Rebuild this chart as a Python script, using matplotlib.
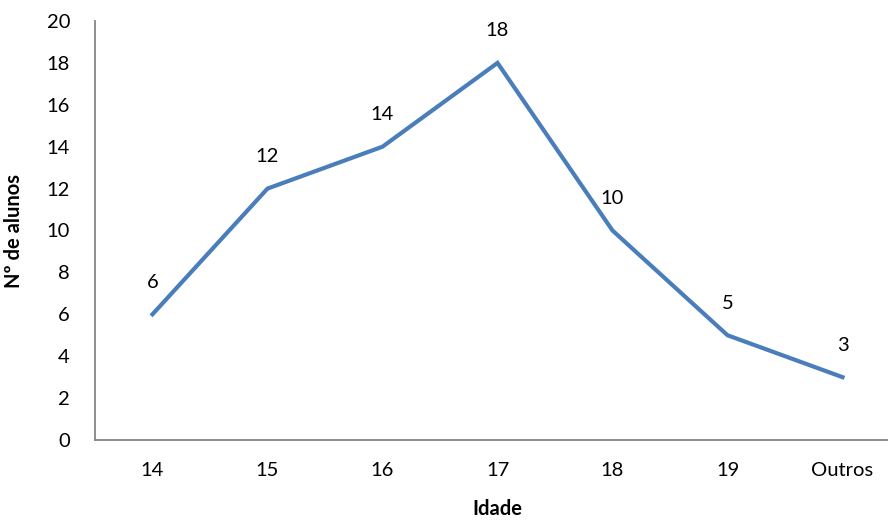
import matplotlib
matplotlib.use("Agg")
import matplotlib.pyplot as plt

categories = ["14", "15", "16", "17", "18", "19", "Outros"]
values = [6, 12, 14, 18, 10, 5, 3]
yticks = [0, 2, 4, 6, 8, 10, 12, 14, 16, 18, 20]

plt.rcParams['font.family'] = ['Lato', 'DejaVu Sans']

W, H = 888, 524
fig = plt.figure(figsize=(W/100, H/100), dpi=100)
left, right, top, bottom = 95, 900, 21, 440
ax = fig.add_axes([left/W, 1 - bottom/H, (right-left)/W, (bottom-top)/H])

fs = 14.5
x = list(range(len(categories)))
ax.plot(x, values, color="#4A7EBB", lw=3.0, solid_joinstyle="miter")
for xi, v in zip(x, values):
    ax.annotate(str(v), (xi, v), xytext=(0, 23), textcoords="offset points",
                ha="center", va="center", fontsize=fs)

ax.set_xlim(-0.5, len(categories) - 0.5)
ax.set_ylim(0, 20)
ax.set_xticks(x)
ax.set_xticklabels(categories, fontsize=fs)
ax.set_yticks(yticks)
ax.set_yticklabels([str(t) for t in yticks], fontsize=fs)
ax.tick_params(length=0)
ax.tick_params(axis="x", pad=16)
ax.tick_params(axis="y", pad=18)
for s in ["top", "right"]:
    ax.spines[s].set_visible(False)
for s in ["left", "bottom"]:
    ax.spines[s].set_color("#868686")
    ax.spines[s].set_linewidth(1.3)

ax.set_xlabel("Idade", fontsize=fs, fontweight="bold", labelpad=14)
ax.set_ylabel("Nº de alunos", fontsize=fs, fontweight="bold", labelpad=16)

fig.savefig("out.png", dpi=100)
